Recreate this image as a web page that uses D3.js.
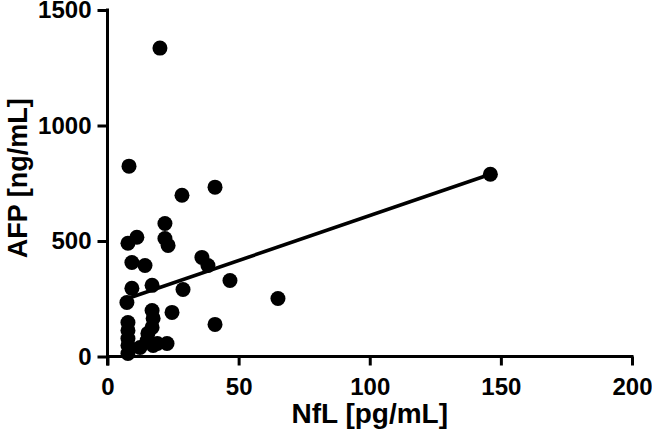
<!DOCTYPE html>
<html>
<head>
<meta charset="utf-8">
<script src="https://cdn.jsdelivr.net/npm/d3@7"></script>
<style>
  html, body { margin: 0; padding: 0; background: #fff; }
  svg { display: block; }
  text { font-family: "Liberation Sans", Arial, sans-serif; font-weight: bold; fill: #000; }
</style>
</head>
<body>
<svg id="chart" width="652" height="438"></svg>
<script>
// NfL [pg/mL] values
const nfl = [20.0, 8.2, 28.4, 41.0, 21.9, 21.9, 23.1, 36.0, 38.3, 46.7, 28.8, 65.0, 24.6, 41.0, 22.7,
             7.8, 11.2, 9.3, 14.3, 17.0, 9.3, 7.4, 17.0, 17.4, 7.8, 7.8, 17.0, 7.8, 15.4, 15.1,
             7.8, 12.4, 7.8, 17.4, 19.0, 146.0];
// AFP [ng/mL] values
const afp = [1335, 824, 698, 733, 576, 511, 481, 429, 394, 329, 290, 251, 191, 139, 56,
             490, 516, 407, 394, 308, 295, 234, 199, 165, 147, 113, 126, 78, 100, 69,
             48, 39, 13, 48, 56, 789];
// regression line endpoints
const fitX = [7.4, 146.0];
const fitY = [250, 789];
const xTicks = [0, 50, 100, 150, 200];
const yTicks = [0, 500, 1000, 1500];

const svg = d3.select("#chart");
const x = d3.scaleLinear().domain([0, 200]).range([107.5, 632]);
const y = d3.scaleLinear().domain([0, 1500]).range([356.5, 10]);

// regression line
svg.append("line")
  .attr("x1", x(fitX[0])).attr("y1", y(fitY[0]))
  .attr("x2", x(fitX[1])).attr("y2", y(fitY[1]))
  .attr("stroke", "#000").attr("stroke-width", 3.5);

// points
svg.append("g").selectAll("circle")
  .data(nfl.map((v, i) => [v, afp[i]]))
  .join("circle")
  .attr("cx", d => x(d[0])).attr("cy", d => y(d[1]))
  .attr("r", 7.5).attr("fill", "#000");

// axes
const yAxis = d3.axisLeft(y).tickValues(yTicks).tickFormat(d3.format("d"))
  .tickSize(10).tickPadding(6).tickSizeOuter(0);
const gy = svg.append("g").attr("transform", `translate(${x(0)},0)`).call(yAxis);
const xAxis = d3.axisBottom(x).tickValues(xTicks).tickFormat(d3.format("d"))
  .tickSize(9).tickPadding(12).tickSizeOuter(0);
const gx = svg.append("g").attr("transform", `translate(0,${y(0)})`).call(xAxis);

[gx, gy].forEach(g => {
  g.select(".domain").remove();
  g.selectAll(".tick line").attr("stroke", "#000").attr("stroke-width", 3);
  g.selectAll(".tick text").style("font-size", "24px").style("font-family", '"Liberation Sans", Arial, sans-serif')
    .style("font-weight", "bold").attr("fill", "#000");
});
// axis lines
svg.append("line").attr("x1", x(0)).attr("x2", x(0)).attr("y1", y(1500) - 1.5).attr("y2", y(0) + 9)
  .attr("stroke", "#000").attr("stroke-width", 3);
svg.append("line").attr("x1", x(0)).attr("x2", x(200) + 1.5).attr("y1", y(0)).attr("y2", y(0))
  .attr("stroke", "#000").attr("stroke-width", 3);

// titles
svg.append("text").attr("x", (x(0) + x(200)) / 2).attr("y", 423)
  .attr("text-anchor", "middle").style("font-size", "28px").text("NfL [pg/mL]");
svg.append("text").attr("transform", `translate(27,${(y(0) + y(1500)) / 2 - 5}) rotate(-90)`)
  .attr("text-anchor", "middle").style("font-size", "27px").text("AFP [ng/mL]");
</script>
</body>
</html>
